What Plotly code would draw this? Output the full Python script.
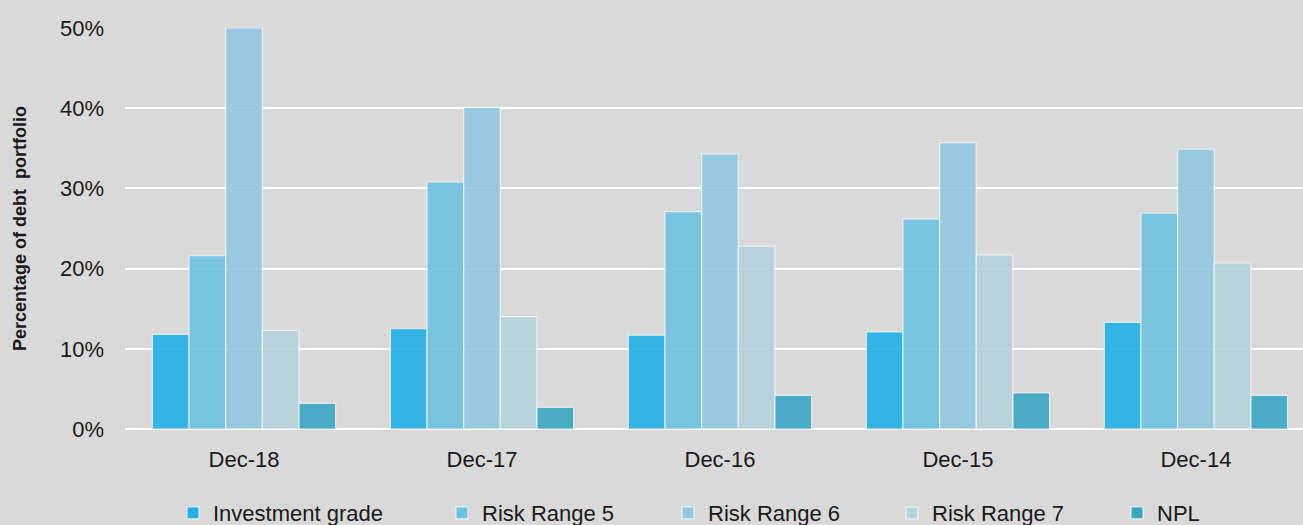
import plotly.graph_objects as go

# Reporting dates (categories) and share of debt portfolio by risk bucket (%)
periods = ["Dec-18", "Dec-17", "Dec-16", "Dec-15", "Dec-14"]
investment_grade = [11.8, 12.5, 11.7, 12.1, 13.3]
risk_range_5 = [21.6, 30.8, 27.1, 26.2, 26.9]
risk_range_6 = [50.0, 40.1, 34.3, 35.7, 34.9]
risk_range_7 = [12.3, 14.0, 22.8, 21.7, 20.7]
npl = [3.2, 2.7, 4.2, 4.5, 4.2]

series = [
    ("Investment grade", investment_grade, "rgb(35,177,230)"),
    ("Risk Range 5", risk_range_5, "rgb(109,193,225)"),
    ("Risk Range 6", risk_range_6, "rgb(146,201,224)"),
    ("Risk Range 7", risk_range_7, "rgb(181,210,221)"),
    ("NPL", npl, "rgb(58,167,195)"),
]

# left edge (px) of each legend entry along the bottom row
legend_x = [173, 442, 668, 892, 1117]

FONT = "Liberation Sans, Arial, sans-serif"
W, H = 1303, 525

fig = go.Figure()
layout_legends = {}
for i, (name, vals, color) in enumerate(series):
    key = "legend" if i == 0 else f"legend{i + 1}"
    fig.add_trace(go.Bar(
        name=name,
        x=periods,
        y=[v / 100 for v in vals],
        legend=key,
        marker=dict(color=color, opacity=0.9,
                    line=dict(color="rgba(255,255,255,0.75)", width=1.2)),
    ))
    layout_legends[key] = dict(
        orientation="h", xref="container", yref="container",
        x=legend_x[i] / W, xanchor="left",
        y=12 / H, yanchor="middle",
        font=dict(size=22), itemwidth=30,
        bgcolor="rgba(0,0,0,0)",
    )

fig.update_layout(
    width=W, height=H,
    paper_bgcolor="#d9d9d9", plot_bgcolor="#d9d9d9",
    margin=dict(l=125, r=0, t=28, b=96, autoexpand=False),
    barmode="group", bargap=0.23, bargroupgap=0,
    font=dict(family=FONT, size=22, color="#1a1a1a"),
    showlegend=True,
    xaxis=dict(
        type="category", range=[-0.5, 4.45], automargin=False,
        showgrid=False, showline=False, zeroline=False,
        ticks="", ticklabelstandoff=15,
        tickfont=dict(size=22),
    ),
    yaxis=dict(
        range=[0, 0.5], dtick=0.1, tickformat=".0%", automargin=False,
        showgrid=True, gridcolor="white", gridwidth=2,
        zeroline=True, zerolinecolor="white", zerolinewidth=2,
        showline=False, ticks="", ticklabelstandoff=20,
        tickfont=dict(size=22),
        title=dict(text="<b>Percentage of debt  portfolio</b>",
                   font=dict(size=18), standoff=28),
    ),
    **layout_legends,
)

fig.write_html("out.html")
